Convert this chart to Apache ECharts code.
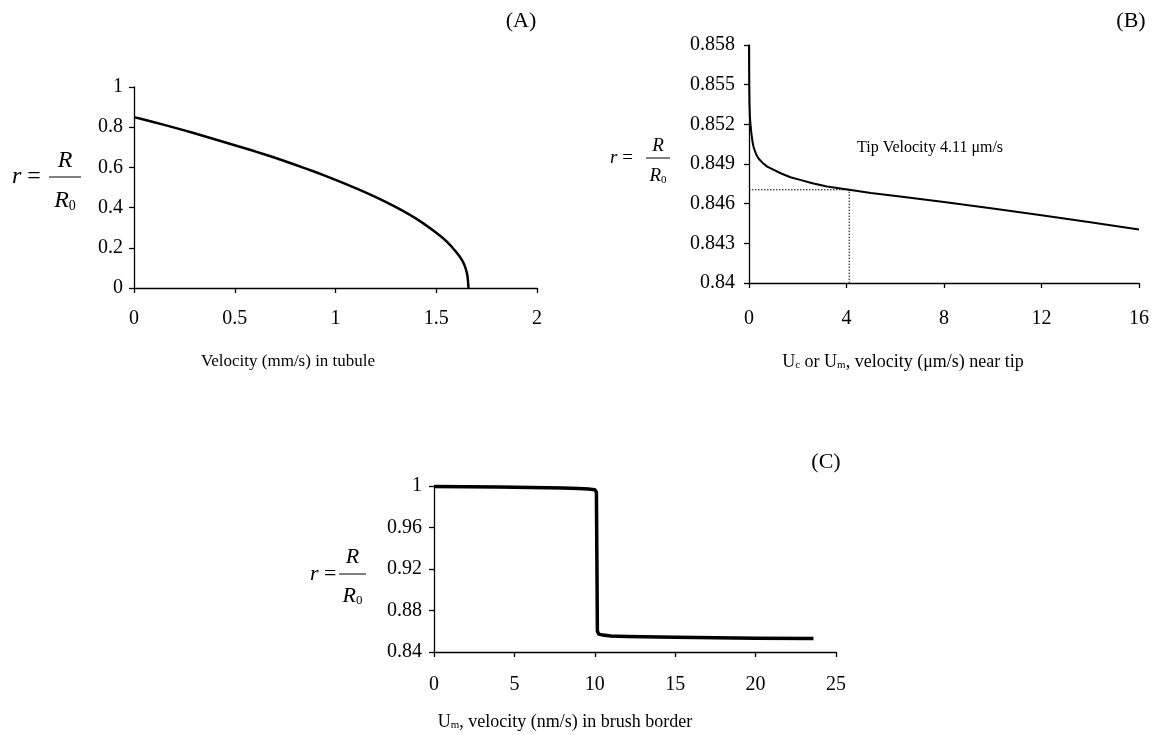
<!DOCTYPE html>
<html>
<head>
<meta charset="utf-8">
<script src="https://cdn.jsdelivr.net/npm/echarts@6/dist/echarts.min.js"></script>
<style>
html,body{margin:0;padding:0;background:#fff;}
#chart{width:1153px;height:735px;}
</style>
</head>
<body>
<div id="chart"></div>
<script>
// ---- Panel A data ----
var aX = [0, 0.1, 0.2, 0.3, 0.4, 0.5, 0.6, 0.7, 0.8, 0.9, 1.0, 1.1, 1.2, 1.3, 1.4, 1.5, 1.55, 1.6, 1.63, 1.645, 1.655, 1.66];
var aY = [0.85, 0.825, 0.798, 0.77, 0.74, 0.71, 0.68, 0.648, 0.613, 0.577, 0.538, 0.497, 0.452, 0.402, 0.345, 0.275, 0.233, 0.178, 0.135, 0.1, 0.06, 0];
var aXTicks = [0, 0.5, 1, 1.5, 2];
var aYTicks = [0, 0.2, 0.4, 0.6, 0.8, 1];

// ---- Panel B data ----
var bX = [0, 0.005, 0.01, 0.02, 0.04, 0.07, 0.1, 0.15, 0.2, 0.3, 0.4, 0.55, 0.75, 1.0, 1.3, 1.7, 2.1, 2.6, 3.2, 4.11, 5, 6.2, 8, 10, 12, 14, 16];
var bY = [0.858, 0.856, 0.8548, 0.8535, 0.8525, 0.8518, 0.8513, 0.8506, 0.8502, 0.8497, 0.8494, 0.8491, 0.8488, 0.84857, 0.8483, 0.848, 0.8478, 0.84755, 0.8473, 0.84705, 0.8468, 0.84655, 0.84613, 0.84563, 0.84512, 0.8446, 0.84404];
var bTipX = [0, 4.11, 4.11];
var bTipY = [0.84705, 0.84705, 0.84];
var bXTicks = [0, 4, 8, 12, 16];
var bYTicks = [0.84, 0.843, 0.846, 0.849, 0.852, 0.855, 0.858];

// ---- Panel C data ----
var cX = [0, 2, 4, 6, 8, 9, 9.6, 10, 10.1, 10.13, 10.16, 10.25, 10.5, 11, 12, 15, 20, 23.6];
var cY = [0.9995, 0.9993, 0.999, 0.9985, 0.998, 0.9975, 0.997, 0.9965, 0.994, 0.93, 0.86, 0.8572, 0.8563, 0.8555, 0.855, 0.8542, 0.8533, 0.853];
var cXTicks = [0, 5, 10, 15, 20, 25];
var cYTicks = [0.84, 0.88, 0.92, 0.96, 1];

var SERIF = "'Liberation Serif','DejaVu Serif',serif";

function pairs(xs, ys) { return xs.map(function (x, i) { return [x, ys[i]]; }); }
function step(t) { return +(t[1] - t[0]).toFixed(6); }

function xAx(idx, ticks, margin) {
  return {
    type: 'value', gridIndex: idx, min: ticks[0], max: ticks[ticks.length - 1], interval: step(ticks),
    axisLine: { show: true, onZero: false, lineStyle: { color: '#000', width: 1.3 } },
    axisTick: { show: true, inside: false, length: 5, lineStyle: { color: '#000', width: 1.3 } },
    axisLabel: { color: '#000', fontFamily: SERIF, fontSize: 20, margin: margin },
    splitLine: { show: false }
  };
}
function yAx(idx, ticks, margin) {
  return {
    type: 'value', gridIndex: idx, min: ticks[0], max: ticks[ticks.length - 1], interval: step(ticks),
    axisLine: { show: true, onZero: false, lineStyle: { color: '#000', width: 1.3 } },
    axisTick: { show: true, inside: false, length: 5, lineStyle: { color: '#000', width: 1.3 } },
    axisLabel: { color: '#000', fontFamily: SERIF, fontSize: 20, margin: margin,
      formatter: function (v) { return String(+v.toFixed(4)); } },
    splitLine: { show: false }
  };
}

function fraction(xEq, yMid, xFrac, wFrac, fs, dyTop, dyBot) {
  return [
    { type: 'text', x: xEq, y: yMid, style: { text: '{i|r} =', verticalAlign: 'middle', align: 'left',
      rich: { i: { fontStyle: 'italic', fontFamily: SERIF, fontSize: fs, fill: '#000' } },
      fontFamily: SERIF, fontSize: fs, fill: '#000' } },
    { type: 'text', x: xFrac + wFrac / 2, y: yMid - dyTop, style: { text: 'R', align: 'center', verticalAlign: 'middle',
      fontStyle: 'italic', fontFamily: SERIF, fontSize: fs, fill: '#000' } },
    { type: 'line', shape: { x1: xFrac, y1: yMid, x2: xFrac + wFrac, y2: yMid }, style: { stroke: '#000', lineWidth: 1 } },
    { type: 'text', x: xFrac + wFrac / 2, y: yMid + dyBot, style: { text: '{i|R}{s|0}', align: 'center', verticalAlign: 'middle',
      rich: { i: { fontStyle: 'italic', fontFamily: SERIF, fontSize: fs, fill: '#000' },
              s: { fontFamily: SERIF, fontSize: Math.round(fs * 0.6), fill: '#000', verticalAlign: 'bottom', padding: [Math.round(fs*0.35), 0, 0, 0] } } } }
  ];
}

var chart = echarts.init(document.getElementById('chart'), null, { renderer: 'canvas' });

var graphics = [];
graphics.push({ type: 'text', x: 521, y: 21, style: { text: '(A)', align: 'center', verticalAlign: 'middle', fontFamily: SERIF, fontSize: 22, fill: '#000' } });
graphics.push({ type: 'text', x: 1131, y: 21, style: { text: '(B)', align: 'center', verticalAlign: 'middle', fontFamily: SERIF, fontSize: 22, fill: '#000' } });
graphics.push({ type: 'text', x: 826, y: 462, style: { text: '(C)', align: 'center', verticalAlign: 'middle', fontFamily: SERIF, fontSize: 22, fill: '#000' } });

graphics.push({ type: 'text', x: 288, y: 362, style: { text: 'Velocity (mm/s) in tubule', align: 'center', verticalAlign: 'middle', fontFamily: SERIF, fontSize: 17, fill: '#000' } });
graphics.push({ type: 'text', x: 903, y: 362, style: { text: 'U{s|c} or U{s|m}, velocity (\u03bcm/s) near tip', align: 'center', verticalAlign: 'middle', fontFamily: SERIF, fontSize: 18, fill: '#000',
  rich: { s: { fontFamily: SERIF, fontSize: 11, fill: '#000', padding: [7, 0, 0, 0] } } } });
graphics.push({ type: 'text', x: 565, y: 722, style: { text: 'U{s|m}, velocity (nm/s) in brush border', align: 'center', verticalAlign: 'middle', fontFamily: SERIF, fontSize: 18, fill: '#000',
  rich: { s: { fontFamily: SERIF, fontSize: 11, fill: '#000', padding: [7, 0, 0, 0] } } } });
graphics.push({ type: 'text', x: 857, y: 148, style: { text: 'Tip Velocity 4.11 \u03bcm/s', align: 'left', verticalAlign: 'middle', fontFamily: SERIF, fontSize: 16, fill: '#000' } });

graphics = graphics.concat(fraction(12, 177, 49, 32, 24, 16, 24));
graphics = graphics.concat(fraction(610, 158, 646, 24, 19, 12, 18));
graphics = graphics.concat(fraction(310, 574, 339, 27, 22, 17, 22));

var option = {
  backgroundColor: '#fff',
  animation: false,
  grid: [
    { left: 134, top: 87, width: 403, height: 201 },
    { left: 749, top: 45, width: 390, height: 238 },
    { left: 434, top: 486, width: 402, height: 166 }
  ],
  xAxis: [xAx(0, aXTicks, 21), xAx(1, bXTicks, 26), xAx(2, cXTicks, 23)],
  yAxis: [yAx(0, aYTicks, 11), yAx(1, bYTicks, 14), yAx(2, cYTicks, 12)],
  graphic: graphics,
  series: [
    { type: 'line', xAxisIndex: 0, yAxisIndex: 0, data: pairs(aX, aY), showSymbol: false, clip: false, smooth: 0.2,
      lineStyle: { color: '#000', width: 2.5 } },
    { type: 'line', xAxisIndex: 1, yAxisIndex: 1, data: pairs(bX, bY), showSymbol: false, clip: false,
      lineStyle: { color: '#000', width: 2, join: 'round' } },
    { type: 'line', xAxisIndex: 1, yAxisIndex: 1, data: pairs(bTipX, bTipY), showSymbol: false, clip: false,
      lineStyle: { color: '#000', width: 1, type: [1.5, 1.5] } },
    { type: 'line', xAxisIndex: 2, yAxisIndex: 2, data: pairs(cX, cY), showSymbol: false, clip: false,
      lineStyle: { color: '#000', width: 3.5, join: 'round' } }
  ]
};
chart.setOption(option);
</script>
</body>
</html>
